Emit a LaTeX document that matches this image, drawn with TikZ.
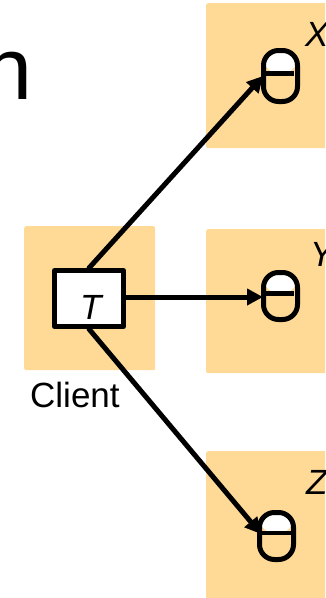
\documentclass[tikz,border=0pt]{standalone}
\usepackage{fontspec}
\setmainfont{Liberation Sans}
\usetikzlibrary{arrows.meta}
\definecolor{peach}{HTML}{FFD996}
\tikzset{
  zone/.style={fill=peach,rounded corners=2pt,inner sep=0pt,anchor=north west},
  capsule/.style={draw,line width=5pt,rounded corners=15pt,minimum width=34pt,minimum height=47pt,inner sep=0pt,
    path picture={\fill [white] (path picture bounding box.north west) rectangle ([yshift=3pt]path picture bounding box.east);}},
  label/.style={inner sep=0pt,anchor=base west,font=\fontsize{35}{35}\selectfont}
}
\begin{document}
\begin{tikzpicture}[line cap=round,line join=round,>={Triangle[length=16pt,width=16pt]},x=1pt,y=-1pt]
\useasboundingbox (0,0) rectangle (325,598);
\clip (0,0) rectangle (325,598);
\node (bigletter) [inner sep=0pt,anchor=base west,font=\fontsize{88}{88}\selectfont] at (-17,99) {n};

\node (xzone) [zone,minimum width=130pt,minimum height=145pt] at (206,3) {};
\node (yzone) [zone,minimum width=130pt,minimum height=144pt] at (206,229) {};
\node (zzone) [zone,minimum width=130pt,minimum height=160pt] at (206,451) {};
\node (clientzone) [zone,minimum width=131pt,minimum height=144pt] at (24,226) {};

\node (xcap) [capsule,minimum height=51pt] at (280.5,76) {};
\node (ycap) [capsule] at (280.5,296) {};
\node (zcap) [capsule] at (276.5,536) {};
\coordinate (xmid) at (262,73);
\coordinate (xend) at (294,73);
\coordinate (ymid) at (262,293);
\coordinate (yend) at (294,293);
\coordinate (zmid) at (258,533);
\coordinate (zend) at (291,533);
\draw [line width=5pt,line cap=butt] (xmid)-- (xend);
\draw [line width=5pt,line cap=butt] (ymid)-- (yend);
\draw [line width=4pt,line cap=butt] (zmid)-- (zend);

\node (sender) [draw,fill=white,line width=5pt,minimum width=69pt,minimum height=56pt,inner sep=0pt] at (89,298.5) {};
\node (tlabel) [label] at (80,319) {\itshape T};
\node (client) [label] at (30,407) {Client};
\node (xlabel) [label] at (305,46) {\itshape X};
\node (ylabel) [label] at (310,266) {\itshape Y};
\node (zlabel) [label] at (306,494) {\itshape Z};

\coordinate (xtip) at (263,76);
\coordinate (ytip) at (263,297);
\coordinate (ztip) at (261,534);
\draw [->,line width=5pt] (sender.north)-- (xtip);
\draw [->,line width=5pt] (sender.east |- ytip)-- (ytip);
\draw [->,line width=5pt] (sender.south)-- (ztip);
\end{tikzpicture}
\end{document}
